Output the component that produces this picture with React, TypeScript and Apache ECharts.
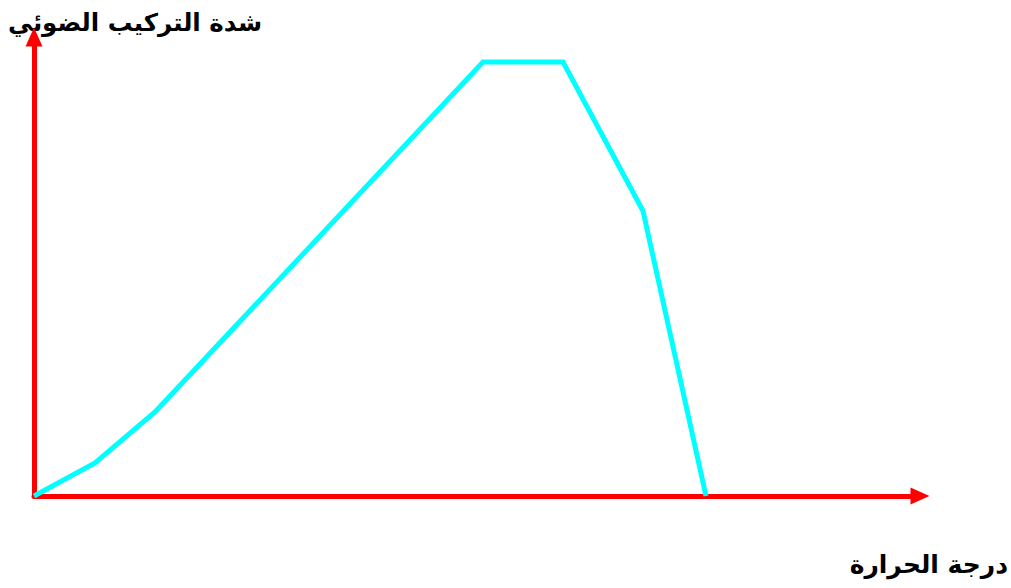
import React, { useEffect, useRef } from "react";
import * as echarts from "echarts";

const temperature = [0, 3.05, 6.05, 22.45, 26.45, 30.45, 33.6];
const photosynthesis = [0, 3.3, 8.4, 43.4, 43.4, 28.5, 0];
const yTitle = "شدة التركيب الضوئي";
const xTitle = "درجة الحرارة";

export default function App() {
  const ref = useRef<HTMLDivElement>(null);
  useEffect(() => {
    const chart = echarts.init(ref.current!, null, { renderer: "svg" });
    const axisCommon = {
      axisTick: { show: false },
      axisLabel: { show: false },
      splitLine: { show: false },
    };
    const axisLine = {
      show: true,
      symbol: ["none", "triangle"],
      symbolSize: [17, 19],
      lineStyle: { color: "#ff0000", width: 5 },
    };
    chart.setOption({
      animation: false,
      backgroundColor: "#ffffff",
      grid: { left: 34, right: 91, top: 37, bottom: 92 },
      xAxis: { type: "value", min: 0, max: 44.3, ...axisCommon, axisLine },
      yAxis: { type: "value", min: 0, max: 45.9, ...axisCommon, axisLine },
      series: [
        {
          type: "line",
          data: temperature.map((t, i) => [t, photosynthesis[i]]),
          symbol: "none",
          lineStyle: { color: "#00ffff", width: 5, join: "miter" },
        },
      ],
      graphic: [
        {
          type: "text",
          x: 262,
          y: 10,
          style: {
            text: yTitle,
            font: "bold 24.5px 'DejaVu Sans', sans-serif",
            fill: "#000000",
            align: "right",
            verticalAlign: "top",
          },
        },
        {
          type: "text",
          x: 1008,
          y: 552,
          style: {
            text: xTitle,
            font: "bold 25px 'DejaVu Sans', sans-serif",
            fill: "#000000",
            align: "right",
            verticalAlign: "top",
          },
        },
      ],
    });
    return () => chart.dispose();
  }, []);
  return <div ref={ref} style={{ width: 1011, height: 588, position: "absolute", left: 0, top: 0 }} />;
}
